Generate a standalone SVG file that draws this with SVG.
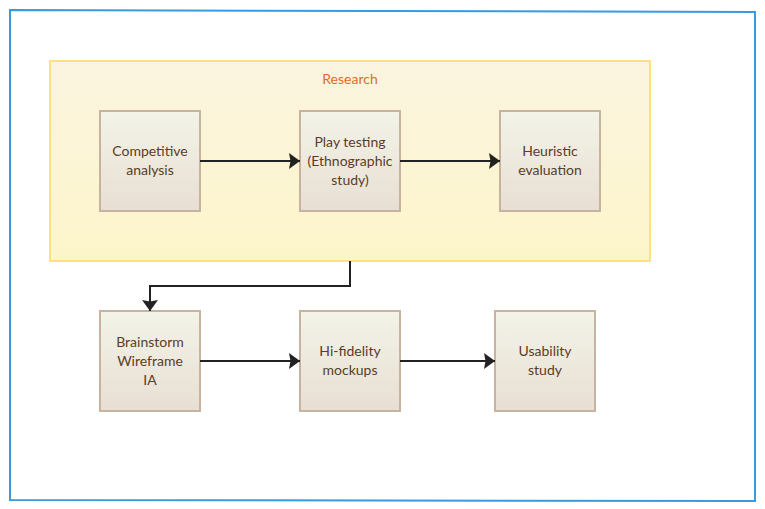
<svg xmlns="http://www.w3.org/2000/svg" width="765" height="509" viewBox="0 0 765 509">
<style>
.node rect{fill:url(#ng);stroke:#c8b3a0;stroke-width:2}
.node text{font-family:Lato,"Open Sans",sans-serif;font-size:14px;fill:#5a3d26;text-anchor:middle}
.conn path{fill:none;stroke:#222;stroke-width:2}
</style>
<defs>
<linearGradient id="ng" x1="0" y1="0" x2="0" y2="1">
<stop offset="0" stop-color="#f3f3e7"/>
<stop offset="1" stop-color="#e8dfd4"/>
</linearGradient>
<linearGradient id="cg" x1="0" y1="0" x2="0" y2="1">
<stop offset="0" stop-color="#faf4e0"/>
<stop offset="1" stop-color="#fdf5c9"/>
</linearGradient>
<marker id="ah" viewBox="0 0 11 16" refX="11" refY="8" markerWidth="11" markerHeight="16" markerUnits="userSpaceOnUse" orient="auto">
<path d="M0,0 L11,8 L0,16 L1.5,8 Z" fill="#222"/>
</marker>
</defs>
<rect width="765" height="509" fill="#fff"/>
<path d="M10,10 L755,12 L755,501 L10,500 Z" fill="none" stroke="#3a9ae0" stroke-width="2"/>
<g id="research">
<rect x="50" y="61" width="600" height="200" fill="url(#cg)" stroke="#fde07f" stroke-width="2"/>
<text x="350" y="84" font-family="Lato,'Open Sans',sans-serif" font-size="14" fill="#e06a2c" text-anchor="middle">Research</text>
</g>
<g id="competitive" class="node">
<rect x="100" y="111" width="100" height="100"/>
<text x="150" y="156">Competitive</text>
<text x="150" y="175">analysis</text>
</g>
<g id="playtesting" class="node">
<rect x="300" y="111" width="100" height="100"/>
<text x="350" y="147">Play testing</text>
<text x="350" y="166">(Ethnographic</text>
<text x="350" y="185">study)</text>
</g>
<g id="heuristic" class="node">
<rect x="500" y="111" width="100" height="100"/>
<text x="550" y="156">Heuristic</text>
<text x="550" y="175">evaluation</text>
</g>
<g id="brainstorm" class="node">
<rect x="100" y="311" width="100" height="100"/>
<text x="150" y="347">Brainstorm</text>
<text x="150" y="366">Wireframe</text>
<text x="150" y="385">IA</text>
</g>
<g id="hifi" class="node">
<rect x="300" y="311" width="100" height="100"/>
<text x="350" y="356">Hi-fidelity</text>
<text x="350" y="375">mockups</text>
</g>
<g id="usability" class="node">
<rect x="495" y="311" width="100" height="100"/>
<text x="545" y="356">Usability</text>
<text x="545" y="375">study</text>
</g>
<g id="connectors" class="conn">
<path d="M200,161 L300,161" marker-end="url(#ah)"/>
<path d="M400,161 L500,161" marker-end="url(#ah)"/>
<path d="M350,261 L350,286 L150,286 L150,311" marker-end="url(#ah)"/>
<path d="M200,361 L300,361" marker-end="url(#ah)"/>
<path d="M400,361 L495,361" marker-end="url(#ah)"/>
</g>
</svg>
